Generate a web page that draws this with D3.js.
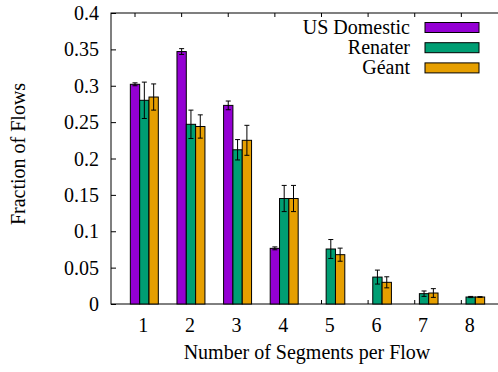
<!DOCTYPE html>
<html>
<head>
<meta charset="utf-8">
<script src="https://cdn.jsdelivr.net/npm/d3@7"></script>
<style>
  body { margin: 0; background: #fff; }
</style>
</head>
<body>
<div id="chart"></div>
<script>
// Chart data
const categories = [1, 2, 3, 4, 5, 6, 7, 8];
const seriesNames = ["US Domestic", "Renater", "Géant"];
const usDomestic = [0.302, 0.347, 0.273, 0.0765, null, null, null, null];
const usDomesticErr = [0.002, 0.004, 0.006, 0.002, null, null, null, null];
const renater = [0.280, 0.247, 0.212, 0.145, 0.0756, 0.037, 0.0142, 0.0096];
const renaterErr = [0.025, 0.0195, 0.014, 0.018, 0.013, 0.0096, 0.0037, 0.0008];
const geant = [0.2845, 0.244, 0.225, 0.145, 0.0678, 0.0298, 0.0151, 0.0096];
const geantErr = [0.018, 0.016, 0.0206, 0.018, 0.009, 0.0076, 0.006, 0.0005];
const yTicks = [0, 0.05, 0.1, 0.15, 0.2, 0.25, 0.3, 0.35, 0.4];
const colors = ["#9400d3", "#009e73", "#e69f00"];

const width = 498;
const height = 372;
const margin = {top: 13, right: -6, bottom: 68, left: 111};
const font = "Liberation Serif";
const fontSize = 20;

const svg = d3.select("#chart")
    .append("svg")
    .attr("width", width)
    .attr("height", height)
    .attr("font-family", font);

// x in category units, the middle bar of each group sits on the category
const x = d3.scaleLinear()
    .domain([0.285, 8.715])
    .range([margin.left, width - margin.right]);

const y = d3.scaleLinear()
    .domain([0, 0.4])
    .range([height - margin.bottom, margin.top]);

const barW = x(0.2) - x(0);
const offsets = [-0.2, 0, 0.2];

// frame
svg.append("rect")
    .attr("x", x.range()[0])
    .attr("y", y(0.4))
    .attr("width", x.range()[1] - x.range()[0])
    .attr("height", y(0) - y(0.4))
    .attr("fill", "none")
    .attr("stroke", "#000")
    .attr("stroke-width", 1);

// y axis, ticks pointing inward
svg.append("g")
    .attr("transform", `translate(${x.range()[0]},0)`)
    .call(d3.axisLeft(y)
        .tickValues(yTicks)
        .tickFormat(d => d3.format("~g")(d))
        .tickSizeInner(-5)
        .tickSizeOuter(0)
        .tickPadding(12))
    .attr("font-family", font)
    .attr("font-size", fontSize)
    .call(g => g.select(".domain").remove())
    .call(g => g.selectAll("text")
        .attr("fill", "#000")
        .attr("dy", "0.33em"));

// x ticks (at the first bar of each group), bottom and top, inward
const xTickPos = categories.map(c => c + offsets[0]);
svg.append("g")
    .selectAll("line")
    .data(xTickPos)
    .join("line")
    .attr("x1", d => x(d)).attr("x2", d => x(d))
    .attr("y1", y(0)).attr("y2", y(0) - 4)
    .attr("stroke", "#000");
svg.append("g")
    .selectAll("line")
    .data(xTickPos)
    .join("line")
    .attr("x1", d => x(d)).attr("x2", d => x(d))
    .attr("y1", y(0.4)).attr("y2", y(0.4) + 4)
    .attr("stroke", "#000");

// x labels
svg.append("g")
    .selectAll("text")
    .data(categories)
    .join("text")
    .attr("x", d => x(d) - 1)
    .attr("y", y(0) + 28)
    .attr("text-anchor", "middle")
    .attr("font-family", font)
    .attr("font-size", fontSize)
    .text(d => d);

// bars with error bars
const allSeries = [
    {name: seriesNames[0], values: usDomestic, errs: usDomesticErr},
    {name: seriesNames[1], values: renater, errs: renaterErr},
    {name: seriesNames[2], values: geant, errs: geantErr}
];

allSeries.forEach((s, si) => {
    const rows = categories
        .map((c, i) => ({c, v: s.values[i], e: s.errs[i]}))
        .filter(d => d.v != null);
    const g = svg.append("g");

    g.selectAll("rect")
        .data(rows)
        .join("rect")
        .attr("x", d => x(d.c + offsets[si]) - barW / 2)
        .attr("y", d => y(d.v))
        .attr("width", barW)
        .attr("height", d => y(0) - y(d.v))
        .attr("fill", colors[si])
        .attr("stroke", "#000")
        .attr("stroke-width", 1);

    const eb = g.selectAll("g.err")
        .data(rows)
        .join("g")
        .attr("stroke", "#000")
        .attr("stroke-width", 1);
    eb.append("line")
        .attr("x1", d => x(d.c + offsets[si])).attr("x2", d => x(d.c + offsets[si]))
        .attr("y1", d => y(d.v - d.e)).attr("y2", d => y(d.v + d.e));
    eb.append("line")
        .attr("x1", d => x(d.c + offsets[si]) - 2.5).attr("x2", d => x(d.c + offsets[si]) + 2.5)
        .attr("y1", d => y(d.v + d.e)).attr("y2", d => y(d.v + d.e));
    eb.append("line")
        .attr("x1", d => x(d.c + offsets[si]) - 2.5).attr("x2", d => x(d.c + offsets[si]) + 2.5)
        .attr("y1", d => y(d.v - d.e)).attr("y2", d => y(d.v - d.e));
});

// legend
const legend = svg.append("g");
seriesNames.forEach((name, i) => {
    const cy = 27.5 + i * 20.2;
    legend.append("text")
        .attr("x", 410)
        .attr("y", cy + 6)
        .attr("text-anchor", "end")
        .attr("font-family", font)
        .attr("font-size", fontSize)
        .text(name);
    legend.append("rect")
        .attr("x", 425)
        .attr("y", cy - 5)
        .attr("width", 54)
        .attr("height", 10)
        .attr("fill", colors[i])
        .attr("stroke", "#000");
});

// axis titles
svg.append("text")
    .attr("x", 307)
    .attr("y", 359)
    .attr("text-anchor", "middle")
    .attr("font-family", font)
    .attr("font-size", fontSize)
    .text("Number of Segments per Flow");

svg.append("text")
    .attr("transform", "translate(25,154) rotate(-90)")
    .attr("text-anchor", "middle")
    .attr("font-family", font)
    .attr("font-size", fontSize)
    .text("Fraction of Flows");
</script>
</body>
</html>
